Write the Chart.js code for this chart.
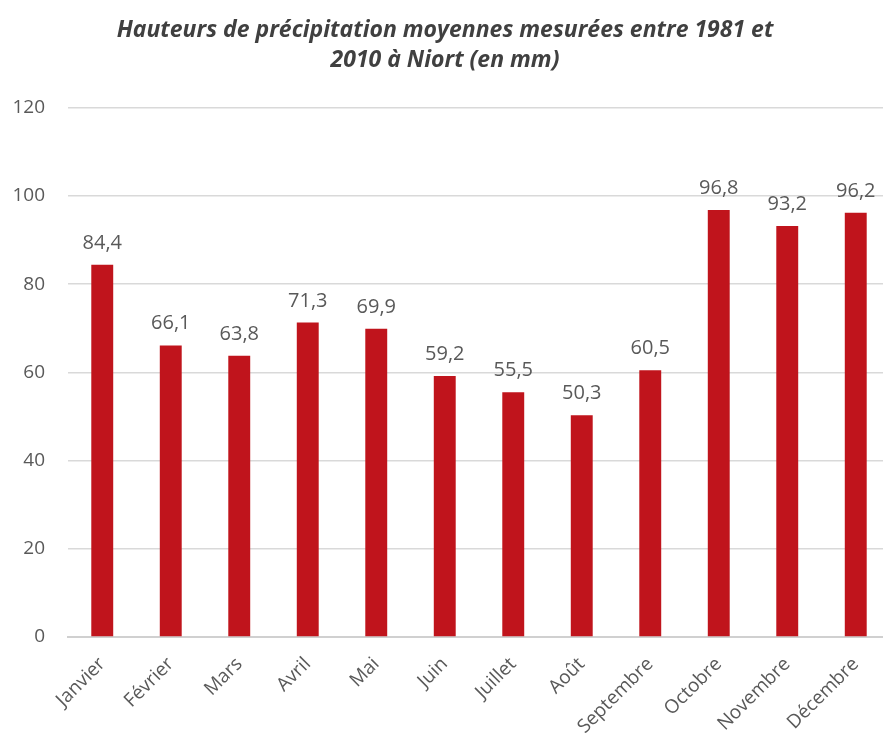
<!DOCTYPE html>
<html>
<head>
<meta charset="utf-8">
<script src="https://cdn.jsdelivr.net/npm/chart.js@4"></script>
<style>
  html, body { margin: 0; padding: 0; background: #fff; overflow: hidden; }
  #wrap { width: 890px; height: 742px; }
</style>
</head>
<body>
<div id="wrap"><canvas id="myChart"></canvas></div>
<script>
var mois = ['Janvier', 'Février', 'Mars', 'Avril', 'Mai', 'Juin', 'Juillet', 'Août', 'Septembre', 'Octobre', 'Novembre', 'Décembre'];
var precipitations = [84.4, 66.1, 63.8, 71.3, 69.9, 59.2, 55.5, 50.3, 60.5, 96.8, 93.2, 96.2];
var yTicks = [0, 20, 40, 60, 80, 100, 120];

// etiquettes au-dessus des barres
var barLabels = {
    id: 'barLabels',
    afterDatasetsDraw: function(chart) {
        var ctx = chart.ctx;
        var meta = chart.getDatasetMeta(0);
        ctx.save();
        ctx.font = '20px "Open Sans"';
        ctx.fillStyle = '#595959';
        ctx.textAlign = 'center';
        ctx.textBaseline = 'alphabetic';
        meta.data.forEach(function(bar, i) {
            ctx.fillText(precipitations[i].toFixed(1).replace('.', ','), bar.x, bar.y - 16);
        });
        ctx.restore();
    }
};

var ctx = document.getElementById('myChart').getContext('2d');
var myChart = new Chart(ctx, {
    type: 'bar',
    data: {
        labels: mois,
        datasets: [{
            data: precipitations,
            backgroundColor: '#C0141C',
            barPercentage: 0.32,
            categoryPercentage: 1
        }]
    },
    options: {
        responsive: true,
        maintainAspectRatio: false,
        animation: false,
        layout: { padding: { left: 0, right: 0, top: 16, bottom: 0 } },
        plugins: {
            legend: { display: false },
            tooltip: { enabled: false },
            title: {
                display: true,
                text: ['Hauteurs de précipitation moyennes mesurées entre 1981 et', '2010 à Niort (en mm)'],
                color: '#404040',
                font: { family: '"Open Sans"', size: 23, style: 'italic', weight: 'bold', lineHeight: 1.3 },
                padding: { top: 0, bottom: 32 }
            }
        },
        scales: {
            x: {
                grid: { display: false, drawTicks: false },
                border: { display: true, color: '#D0D0D0', width: 2 },
                ticks: {
                    color: '#595959',
                    font: { family: '"Open Sans"', size: 19 },
                    minRotation: 45,
                    maxRotation: 45,
                    padding: 16
                },
                afterFit: function(axis) { axis.height = 105; }
            },
            y: {
                min: 0,
                max: 120,
                afterBuildTicks: function(axis) {
                    axis.ticks = yTicks.map(function(v) { return { value: v }; });
                },
                grid: { color: '#D9D9D9', lineWidth: 1.5, drawTicks: false },
                border: { display: false },
                ticks: {
                    color: '#595959',
                    font: { family: '"Open Sans"', size: 19 },
                    padding: 23
                },
                afterFit: function(axis) { axis.width = 68; }
            }
        }
    },
    plugins: [barLabels]
});
</script>
</body>
</html>
